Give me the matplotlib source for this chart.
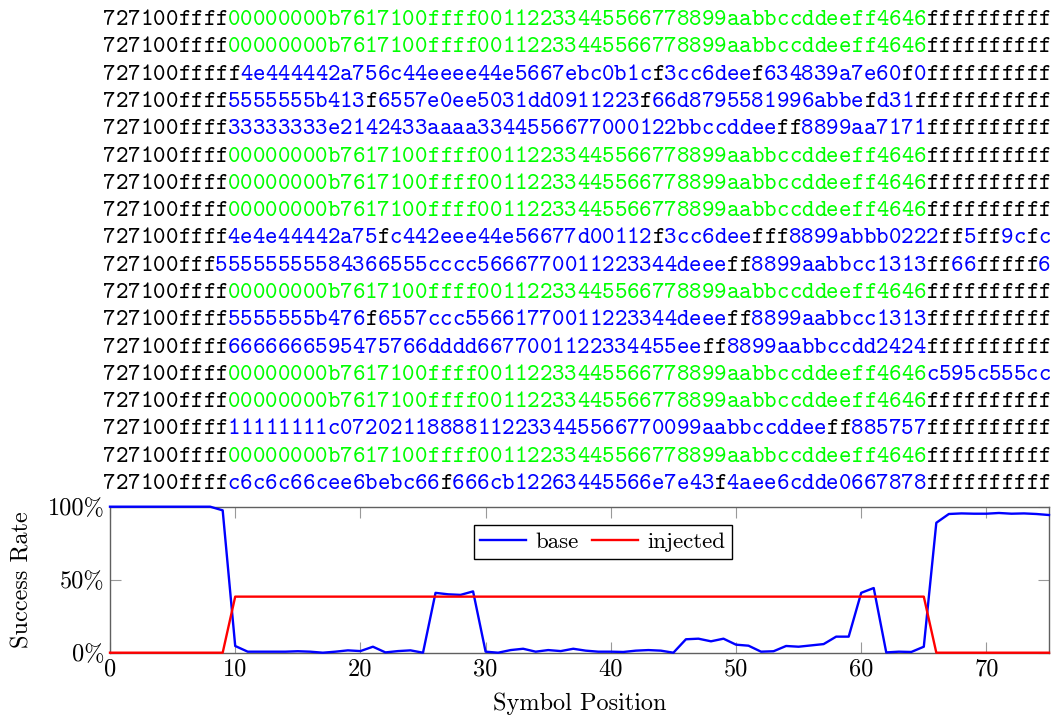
import matplotlib.pyplot as plt

# recovered symbol strings, one per trace
rows = [
    "727100ffff00000000b7617100ffff00112233445566778899aabbccddeeff4646ffffffffff",
    "727100ffff00000000b7617100ffff00112233445566778899aabbccddeeff4646ffffffffff",
    "727100fffff4e444442a756c44eeee44e5667ebc0b1cf3cc6deef634839a7e60f0ffffffffff",
    "727100ffff5555555b413f6557e0ee5031dd0911223f66d8795581996abbefd31fffffffffff",
    "727100ffff33333333e2142433aaaa3344556677000122bbccddeeff8899aa7171ffffffffff",
    "727100ffff00000000b7617100ffff00112233445566778899aabbccddeeff4646ffffffffff",
    "727100ffff00000000b7617100ffff00112233445566778899aabbccddeeff4646ffffffffff",
    "727100ffff00000000b7617100ffff00112233445566778899aabbccddeeff4646ffffffffff",
    "727100ffff4e4e44442a75fc442eee44e56677d00112f3cc6deefff8899abbb0222ff5ff9cfc",
    "727100fff55555555584366555cccc5666770011223344deeeff8899aabbcc1313ff66fffff6",
    "727100ffff00000000b7617100ffff00112233445566778899aabbccddeeff4646ffffffffff",
    "727100ffff5555555b476f6557ccc55661770011223344deeeff8899aabbcc1313ffffffffff",
    "727100ffff6666666595475766dddd6677001122334455eeff8899aabbccdd2424ffffffffff",
    "727100ffff00000000b7617100ffff00112233445566778899aabbccddeeff4646c595c555cc",
    "727100ffff00000000b7617100ffff00112233445566778899aabbccddeeff4646ffffffffff",
    "727100ffff11111111c07202118888112233445566770099aabbccddeeff885757ffffffffff",
    "727100ffff00000000b7617100ffff00112233445566778899aabbccddeeff4646ffffffffff",
    "727100ffffc6c6c66cee6bebc66f666cb12263445566e7e43f4aee6cdde0667878ffffffffff",
]
correct_rows = [0, 1, 5, 6, 7, 10, 13, 14, 16]

positions = list(range(76))
base = [100, 100, 100, 100, 100, 100, 100, 100, 100, 97.5,
        4.6, 0.7, 0.7, 0.7, 0.7, 1.0, 0.7, 0.0, 0.7, 1.6,
        1.1, 4.1, 0.2, 1.1, 1.6, 0.0, 41.0, 40.0, 39.6, 42.0,
        0.7, 0.0, 1.8, 2.7, 0.7, 1.8, 1.1, 2.7, 1.4, 0.7,
        0.7, 0.5, 1.4, 1.8, 1.4, 0.0, 9.2, 9.6, 7.8, 9.6,
        5.5, 4.8, 0.7, 1.0, 4.6, 4.1, 5.0, 5.9, 11.0, 11.0,
        41.0, 44.3, 0.2, 0.7, 0.5, 4.1, 89.0, 95.0, 95.4, 95.2,
        95.2, 95.7, 95.2, 95.4, 95.0, 94.3]
injected = [0, 0, 0, 0, 0, 0, 0, 0, 0, 0,
            38.4, 38.4, 38.4, 38.4, 38.4, 38.4, 38.4, 38.4, 38.4, 38.4,
            38.4, 38.4, 38.4, 38.4, 38.4, 38.4, 38.4, 38.4, 38.4, 38.4,
            38.4, 38.4, 38.4, 38.4, 38.4, 38.4, 38.4, 38.4, 38.4, 38.4,
            38.4, 38.4, 38.4, 38.4, 38.4, 38.4, 38.4, 38.4, 38.4, 38.4,
            38.4, 38.4, 38.4, 38.4, 38.4, 38.4, 38.4, 38.4, 38.4, 38.4,
            38.4, 38.4, 38.4, 38.4, 38.4, 38.4, 0, 0, 0, 0,
            0, 0, 0, 0, 0, 0]
xticks = [0, 10, 20, 30, 40, 50, 60, 70]
yticks = [0, 50, 100]
ytick_labels = ["0%", "50%", "100%"]

for r in rows:
    assert len(r) == 76, (r, len(r))

W, H = 1057, 719
fig = plt.figure(figsize=(W / 100, H / 100), dpi=100)

# strings, one glyph per cell so the colouring can follow each symbol
cell = 12.47
x0 = 103
for k, r in enumerate(rows):
    ybase = 25 + 27.3 * k
    for i, ch in enumerate(r):
        if k in correct_rows and 10 <= i < 66:
            col = (0, 1, 0)
        elif i < 6 or ch == 'f':
            col = 'black'
        else:
            col = (0, 0, 1)
        fig.text((x0 + (i + 0.5) * cell) / W, 1 - ybase / H, ch,
                 ha='center', va='baseline', color=col,
                 family='cmtt10', fontsize=17.1)

ax = fig.add_axes([110 / W, 1 - 652.7 / H, 939 / W, 146 / H])
ax.plot(positions, base, color=(0, 0, 1), lw=1.7, label='base',
        clip_on=False, zorder=3)
ax.plot(positions, injected, color=(1, 0, 0), lw=1.7, label='injected',
        clip_on=False, zorder=3)
ax.set_xlim(0, 75)
ax.set_ylim(0, 100)
ax.set_xticks(xticks)
ax.set_xticklabels([str(t) for t in xticks], family='cmr10', fontsize=17.5)
ax.set_yticks(yticks)
ax.set_yticklabels(ytick_labels, family='cmr10', fontsize=17.5)
ax.tick_params(direction='in', length=8, width=0.8, color='#999999',
               top=True, right=True, pad=4)
for s in ax.spines.values():
    s.set_color('#606060')
    s.set_linewidth(1.0)
ax.set_xlabel('Symbol Position', family='cmr10', fontsize=17.5, labelpad=9)
ax.set_ylabel('Success Rate', family='cmr10', fontsize=17.5, labelpad=10)
leg = ax.legend(loc='center', bbox_to_anchor=(0.525, 0.758), ncol=2,
                prop={'family': 'cmr10', 'size': 16.5}, fancybox=False,
                edgecolor='black', framealpha=1, handlelength=2.0,
                borderpad=0.3, columnspacing=0.6, handletextpad=0.4)
leg.get_frame().set_linewidth(1.0)

fig.savefig('out.png', dpi=100)
